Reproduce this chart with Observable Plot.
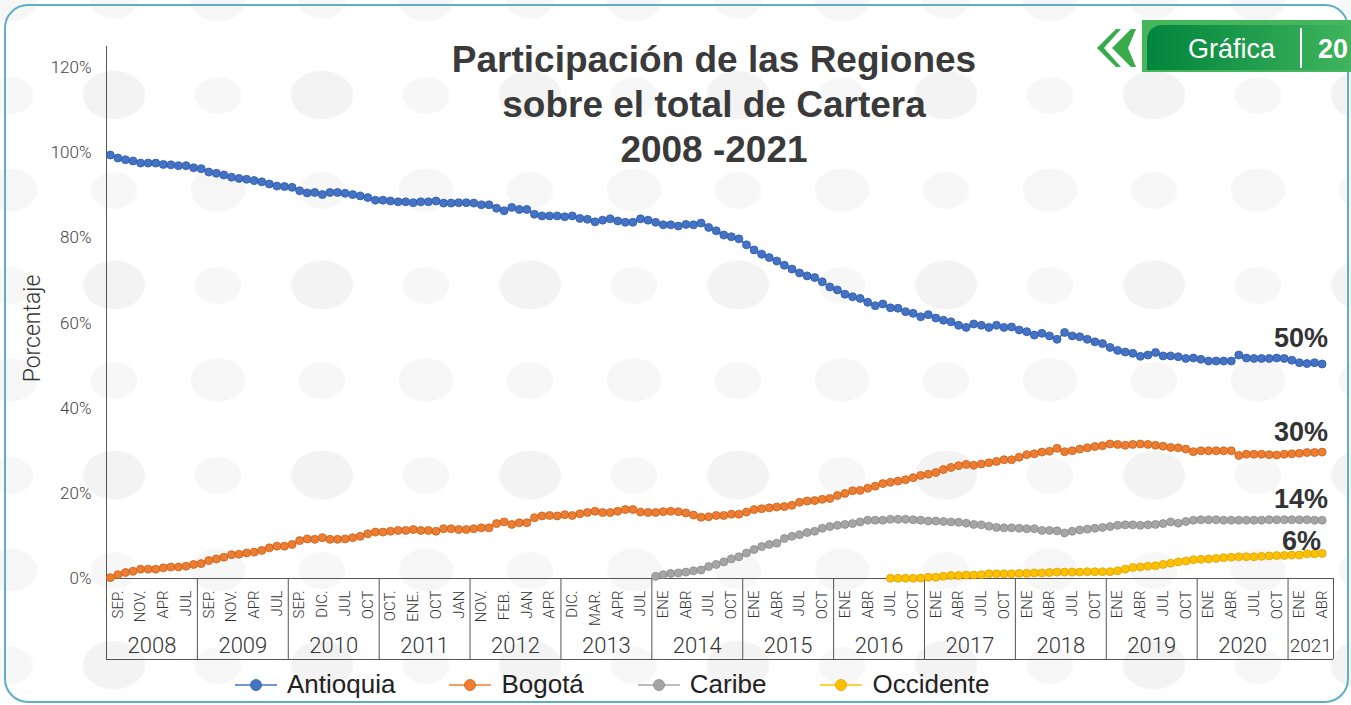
<!DOCTYPE html>
<html><head><meta charset="utf-8">
<script src="https://cdn.jsdelivr.net/npm/d3@7"></script>
<script src="https://cdn.jsdelivr.net/npm/@observablehq/plot@0.6"></script>
<style>
html,body{margin:0;padding:0;}
body{width:1351px;height:705px;overflow:hidden;position:relative;background:#fff;font-family:"Liberation Sans",Arial,sans-serif;}
#bg{position:absolute;left:0;top:0;width:1351px;height:705px;
 background-image:radial-gradient(ellipse 32px 25px at 50% 50%, #f3f3f3 94%, rgba(243,243,243,0) 100%),
                  radial-gradient(ellipse 28px 22px at 50% 50%, #f6f6f6 94%, rgba(246,246,246,0) 100%),
                  radial-gradient(ellipse 24px 19px at 50% 50%, #f7f7f7 94%, rgba(247,247,247,0) 100%);
 background-size:208px 190px,208px 190px,104px 95px;background-position:10px 0px,114px 95px,62px 48px;}
#frame{position:absolute;left:4px;top:4px;width:1345px;height:699px;border:2.5px solid #5cb0c5;border-radius:24px;box-sizing:border-box;}
#chart{position:absolute;left:0;top:0;}
#title{position:absolute;left:0;width:1428px;top:37px;text-align:center;font:bold 37px/45px "Liberation Sans",Arial,sans-serif;color:#3a3a3a;}
#legend{position:absolute;left:235px;top:669px;display:flex;align-items:center;gap:54px;font:26px "Liberation Sans",Arial,sans-serif;color:#222;}
.item{display:flex;align-items:center;}
.item svg{margin-right:10px;}
#badge{position:absolute;left:1090px;top:18px;}
</style></head>
<body>
<div id="bg"></div>
<div id="frame"></div>
<div id="chart"></div>
<div id="title"></div>
<div id="legend"></div>
<svg id="badge" width="261" height="58" viewBox="1090 18 261 58">
  <defs><linearGradient id="gg" x1="0" x2="1" y1="0" y2="0"><stop offset="0" stop-color="#00843d"/><stop offset="1" stop-color="#3fb45c"/></linearGradient></defs>
  <polygon points="1097,48 1116,29 1121,29 1104,48 1121,67 1116,67" fill="#3aab4a"/>
  <polygon points="1112,48 1131,29 1136,29 1128,48 1136,67 1131,67" fill="#3aab4a"/>
  <rect x="1142" y="20" width="209" height="52" fill="#45b65c"/>
  <path d="M1147,70 L1147,42 Q1147,25 1164,25 L1351,25 L1351,70 Z" fill="url(#gg)"/>
  <text x="1188" y="58" fill="#fff" font-family="Liberation Sans, Arial, sans-serif" font-size="27">Gráfica</text>
  <rect x="1300" y="28" width="2" height="40" fill="#fff"/>
  <text x="1318" y="58" fill="#fff" font-family="Liberation Sans, Arial, sans-serif" font-size="27" font-weight="bold">20</text>
</svg>
<script>
// ---------------- data ----------------
const titleLines = ["Participación de las Regiones", "sobre el total de Cartera", "2008 -2021"];
const yAxisTitle = "Porcentaje";
const seriesNames = ["Antioquia", "Bogotá", "Caribe", "Occidente"];
const seriesColors = ["#4472c4", "#ed7d31", "#a5a5a5", "#ffc000"];
const seriesEdge = ["#2f5aa8", "#c9601c", "#8a8a8a", "#d9a300"];
const endLabels = ["50%", "30%", "14%", "6%"];
const years = ["2008","2009","2010","2011","2012","2013","2014","2015","2016","2017","2018","2019","2020","2021"];
const monthsPerYear = [12,12,12,12,12,12,12,12,12,12,12,12,12,6];
const monthLabels = [
  ["SEP.","NOV.","APR","JUL"],
  ["SEP.","NOV.","APR","JUL"],
  ["SEP.","DIC.","JUL","OCT"],
  ["OCT.","ENE.","OCT","JAN"],
  ["NOV.","FEB.","JAN","APR"],
  ["DIC.","MAR.","APR","JUL"],
  ["ENE","ABR","JUL","OCT"],
  ["ENE","ABR","JUL","OCT"],
  ["ENE","ABR","JUL","OCT"],
  ["ENE","ABR","JUL","OCT"],
  ["ENE","ABR","JUL","OCT"],
  ["ENE","ABR","JUL","OCT"],
  ["ENE","ABR","JUL","OCT"],
  ["ENE","ABR"]
];
const yTicks = [0, 20, 40, 60, 80, 100, 120];

const antioquia = [
99.5,98.8,98.4,98.1,97.6,97.6,97.6,97.3,97.2,97.0,
97.0,96.5,96.3,95.5,95.2,94.8,94.3,94.0,93.8,93.5,
93.2,92.7,92.2,92.1,91.9,91.1,90.6,90.7,90.2,90.7,
90.7,90.5,90.2,89.9,89.5,88.9,88.9,88.7,88.5,88.5,
88.3,88.5,88.5,88.7,88.2,88.2,88.3,88.3,88.2,87.8,
87.8,87.0,86.4,87.2,86.7,86.7,85.6,85.2,85.2,85.2,
85.0,85.2,84.6,84.4,83.8,84.2,84.5,84.0,83.7,83.7,
84.5,84.2,83.7,83.1,83.1,82.8,83.2,83.1,83.5,82.5,
81.7,80.7,80.3,79.8,78.4,77.2,76.2,75.4,74.6,73.6,
72.7,71.8,71.1,70.7,69.7,68.5,67.8,66.8,66.2,65.8,
64.9,64.1,64.5,63.6,63.5,62.7,62.3,61.5,62.0,61.2,
60.7,60.3,59.5,59.0,59.8,59.5,59.0,59.5,59.0,59.1,
58.4,58.0,57.2,57.6,57.0,56.2,57.8,57.0,56.8,56.2,
55.6,55.2,54.3,53.6,53.2,52.9,52.2,52.5,53.1,52.3,
52.3,52.1,51.7,51.8,51.5,51.1,51.1,51.1,51.1,52.5,
51.8,51.7,51.7,51.7,51.8,51.7,51.3,50.7,50.5,50.7,
50.4];
const bogota = [
0.2,0.9,1.4,1.7,2.2,2.2,2.2,2.5,2.7,2.7,
2.9,3.3,3.5,4.2,4.6,5.0,5.6,5.7,6.0,6.2,
6.6,7.2,7.6,7.6,8.0,8.9,9.3,9.2,9.6,9.2,
9.2,9.3,9.6,9.9,10.5,10.9,10.9,11.1,11.3,11.3,
11.5,11.3,11.3,11.1,11.7,11.7,11.5,11.5,11.7,11.9,
11.9,12.9,13.3,12.7,13.1,13.1,14.3,14.7,14.8,14.7,
15.0,14.8,15.2,15.5,15.8,15.5,15.5,15.8,16.2,16.2,
15.6,15.5,15.5,15.7,15.8,15.7,15.4,14.9,14.4,14.5,
14.8,14.8,15.1,15.1,15.6,16.2,16.4,16.6,16.8,16.9,
17.2,17.9,18.2,18.3,18.6,18.8,19.5,20.0,20.6,20.7,
21.2,21.7,22.3,22.6,22.9,23.2,23.7,24.2,24.5,24.9,
25.6,26.1,26.5,26.8,26.6,26.9,27.2,27.5,27.9,27.9,
28.5,29.1,29.3,29.7,29.9,30.6,29.8,30.0,30.4,30.7,
31.0,31.2,31.6,31.5,31.3,31.5,31.6,31.5,31.3,31.1,
30.8,30.7,30.4,29.8,30.0,30.0,30.0,30.0,30.0,28.9,
29.2,29.2,29.2,29.1,29.0,29.2,29.3,29.4,29.6,29.6,
29.7];
const caribeStart = 72;
const caribe = [
0.5,0.9,1.2,1.3,1.5,1.8,2.0,2.8,3.3,3.9,
4.6,5.1,6.0,6.8,7.5,8.0,8.3,9.4,9.9,10.3,
10.8,11.1,11.8,12.2,12.5,12.7,12.9,13.3,13.7,13.7,
13.7,13.9,13.9,13.9,13.8,13.7,13.5,13.5,13.4,13.3,
13.2,13.0,12.7,12.6,12.3,12.0,11.9,11.9,11.8,11.7,
11.7,11.3,11.3,11.2,10.7,11.1,11.4,11.6,11.8,12.0,
12.2,12.5,12.6,12.6,12.5,12.6,12.7,12.9,13.3,13.0,
13.4,13.7,13.8,13.8,13.8,13.7,13.7,13.7,13.7,13.7,
13.7,13.8,13.8,13.8,13.8,13.8,13.8,13.7,13.7];
const occidenteStart = 103;
const occidente = [
0.05,0.05,0.05,0.05,0.1,0.3,0.3,0.5,0.7,0.7,
0.8,0.8,0.9,1.1,1.1,1.1,1.1,1.2,1.2,1.3,
1.3,1.4,1.5,1.5,1.5,1.5,1.6,1.6,1.6,1.6,
1.8,2.2,2.6,2.7,2.9,3.0,3.3,3.6,3.9,4.1,
4.4,4.5,4.6,4.7,4.9,5.0,5.1,5.1,5.1,5.2,
5.3,5.4,5.4,5.5,5.5,5.8,5.8,5.9];

// ---------------- build tables ----------------
const seriesValues = [antioquia, bogota, caribe, occidente];
const seriesStarts = [0, 0, caribeStart, occidenteStart];
const series = seriesNames.map((name, k) => ({
  name, color: seriesColors[k], edge: seriesEdge[k], label: endLabels[k],
  rows: seriesValues[k].map((v, j) => ({series: name, slot: seriesStarts[k] + j, v}))
}));
const totalSlots = d3.sum(monthsPerYear);
const yearStarts = d3.cumsum([0, ...monthsPerYear]).slice(0, monthsPerYear.length);
const boundaries = [...yearStarts, totalSlots];
const yearRows = years.map((y, i) => ({year: y, center: yearStarts[i] + monthsPerYear[i] / 2, len: monthsPerYear[i]}));
const labelOffsets = [1, 4, 7, 10];
const monthRows = monthLabels.flatMap((labs, i) => labs.map((t, j) => ({text: t, pos: yearStarts[i] + labelOffsets[j] + 0.5})));

// ---------------- title & legend ----------------
document.getElementById("title").innerHTML = titleLines.join("<br>");
const leg = d3.select("#legend");
series.forEach(s => {
  const it = leg.append("div").attr("class", "item");
  const sv = it.append("svg").attr("width", 42).attr("height", 14);
  sv.append("line").attr("x1", 0).attr("x2", 42).attr("y1", 7).attr("y2", 7).attr("stroke", s.color).attr("stroke-width", 1.6);
  sv.append("circle").attr("cx", 21).attr("cy", 7).attr("r", 5.5).attr("fill", s.color).attr("stroke", s.edge).attr("stroke-width", 0.8);
  it.append("span").text(s.name);
});

// ---------------- plot ----------------
const lightFont = "Roboto, 'Liberation Sans', sans-serif";
const endDy = {"Antioquia": -26, "Bogotá": -20, "Caribe": -21, "Occidente": -12};
const endDx = {"Antioquia": 6, "Bogotá": 6, "Caribe": 6, "Occidente": -1};

const marks = [
  Plot.ruleX([0], {stroke: "#555", strokeWidth: 1}),
  Plot.ruleY([0], {stroke: "#555", strokeWidth: 1}),
  Plot.ruleY([0], {stroke: "#555", strokeWidth: 1, dy: 81}),
  Plot.axisX({ticks: boundaries, tickSize: 81, tickFormat: () => "", stroke: "#555", label: null, anchor: "bottom"}),
  Plot.axisY({ticks: yTicks, tickSize: 0, tickPadding: 15, tickFormat: d => d + "%", fontSize: 17, fontWeight: 300, fontFamily: lightFont, fill: "#444", label: null}),
  Plot.text([yAxisTitle], {frameAnchor: "left", textAnchor: "middle", dx: -74, dy: 16, rotate: -90, fontSize: 23, fontWeight: 300, fontFamily: lightFont, fill: "#333"}),
  Plot.text(monthRows, {x: "pos", text: "text", frameAnchor: "bottom", rotate: -90, textAnchor: "end", lineAnchor: "middle", dy: 12, fontSize: 15, fontWeight: 300, fontFamily: lightFont, fill: "#333"}),
  Plot.text(yearRows, {x: "center", text: "year", frameAnchor: "bottom", dy: 67, lineAnchor: "middle", fontSize: d => d.len < 12 ? 19 : 22, fontWeight: 300, fontFamily: lightFont, fill: "#333"})
];
series.forEach(s => {
  marks.push(Plot.line(s.rows, {x: d => d.slot + 0.5, y: "v", stroke: s.color, strokeWidth: 1.5}));
  marks.push(Plot.dot(s.rows, {x: d => d.slot + 0.5, y: "v", r: 4, fill: s.color, stroke: s.edge, strokeWidth: 0.8}));
});
series.forEach(s => {
  const last = s.rows[s.rows.length - 1];
  marks.push(Plot.text([last], {x: d => d.slot + 0.5, y: "v", text: () => s.label, textAnchor: "end", lineAnchor: "middle",
    dx: endDx[s.name], dy: endDy[s.name], fontSize: 27, fontWeight: "bold", fontFamily: "'Liberation Sans', Arial, sans-serif", fill: "#333"}));
});

const chart = Plot.plot({
  width: 1351, height: 705,
  marginLeft: 106, marginRight: 18, marginTop: 46, marginBottom: 127,
  x: {type: "linear", domain: [0, totalSlots]},
  y: {domain: [0, 125]},
  style: {background: "transparent", overflow: "visible", fontFamily: lightFont},
  marks
});
document.getElementById("chart").appendChild(chart);
</script>
</body></html>
